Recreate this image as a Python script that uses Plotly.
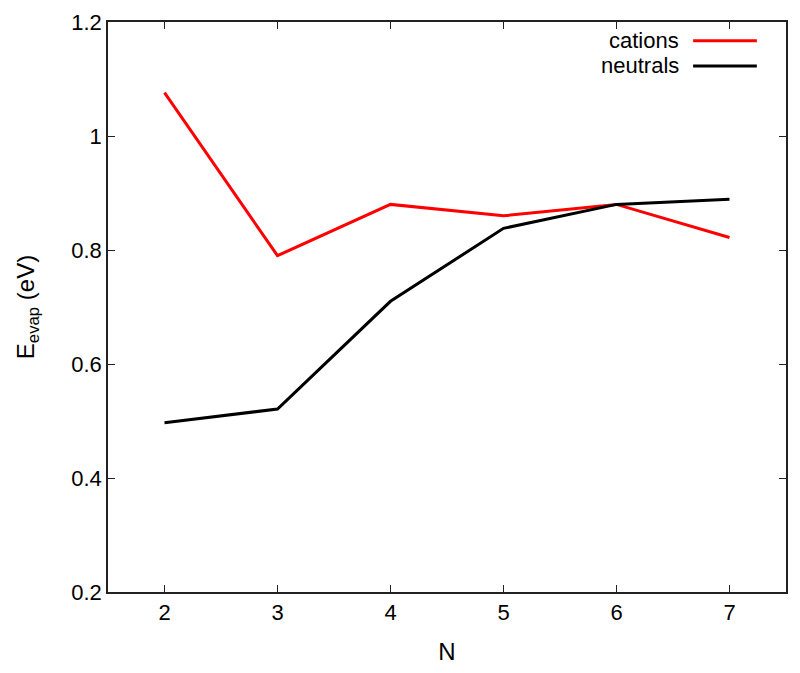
import plotly.graph_objects as go

# cluster size
n_values = [2, 3, 4, 5, 6, 7]
# evaporation energies (eV)
cations = [1.076, 0.790, 0.880, 0.860, 0.880, 0.822]
neutrals = [0.497, 0.521, 0.710, 0.838, 0.880, 0.889]

series_names = ["cations", "neutrals"]
series_colors = ["#ff0000", "#000000"]

FONT = "Liberation Sans, Arial, sans-serif"

fig = go.Figure()
fig.add_trace(go.Scatter(x=n_values, y=cations, mode="lines", name=series_names[0],
                         line=dict(color=series_colors[0], width=3)))
fig.add_trace(go.Scatter(x=n_values, y=neutrals, mode="lines", name=series_names[1],
                         line=dict(color=series_colors[1], width=3)))

# gnuplot style key: text on the left, line sample on the right
key_y = [0.967, 0.923]
for name, color, ky in zip(series_names, series_colors, key_y):
    fig.add_annotation(x=0.843, y=ky, xref="paper", yref="paper", text=name,
                       showarrow=False, xanchor="right", yanchor="middle",
                       borderpad=0, font=dict(family=FONT, size=22, color="black"))
    fig.add_shape(type="line", xref="paper", yref="paper", x0=0.863, x1=0.957,
                  y0=ky, y1=ky, line=dict(color=color, width=3))

axis_style = dict(showline=True, linecolor="#222222", linewidth=1.5, mirror="allticks",
                  ticks="inside", ticklen=7, tickcolor="#222222", tickwidth=1,
                  showgrid=False, zeroline=False, automargin=False,
                  tickfont=dict(family=FONT, size=22, color="black"))

fig.update_xaxes(range=[1.5, 7.5], dtick=1, tick0=2,
                 title=dict(text="N", font=dict(family=FONT, size=24, color="black"), standoff=20),
                 **axis_style)
fig.update_yaxes(range=[0.2, 1.2], dtick=0.2, tick0=0.2,
                 title=dict(text="E<sub>evap</sub> (eV)", font=dict(family=FONT, size=24, color="black"),
                            standoff=30),
                 **axis_style)

# page body has an 8px margin, so the figure is sized to fit the window
fig.update_layout(width=784, height=657, showlegend=False,
                  margin=dict(l=100, r=6, t=14, b=73),
                  plot_bgcolor="white", paper_bgcolor="white",
                  font=dict(family=FONT, size=22, color="black"))

fig.write_html("out.html")
